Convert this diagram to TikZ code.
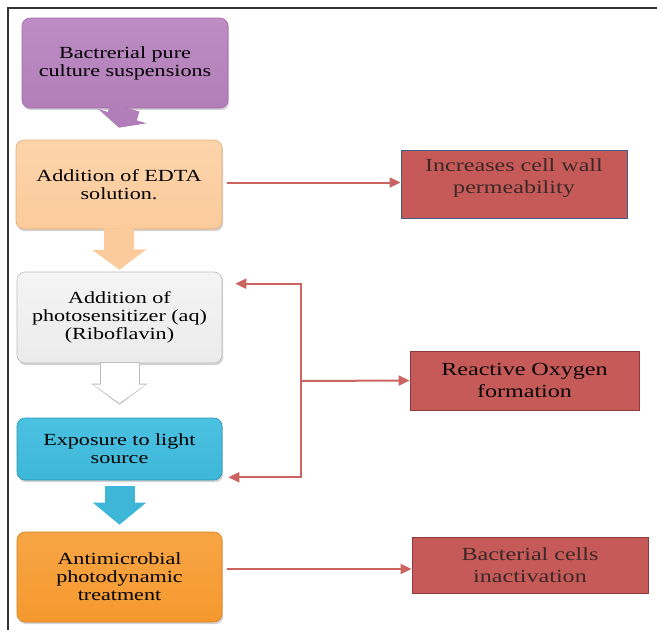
\documentclass[tikz,border=0pt]{standalone}
\usepackage{fontspec}
\setmainfont{Liberation Serif}[FakeStretch=1.3]
\usetikzlibrary{arrows.meta,shadows,calc}
\definecolor{cpurple}{HTML}{B27EB9}
\definecolor{cpurplet}{HTML}{BE8DC4}
\definecolor{cpurpleb}{HTML}{9E6BA5}
\definecolor{cpeach}{HTML}{FBCB9B}
\definecolor{cpeacht}{HTML}{FCD4AB}
\definecolor{cpeachb}{HTML}{E3AD78}
\definecolor{cgrey}{HTML}{EBEBEB}
\definecolor{cgreyt}{HTML}{F4F4F4}
\definecolor{cgreyb}{HTML}{BDBDBD}
\definecolor{cblue}{HTML}{3DB6D8}
\definecolor{cbluet}{HTML}{4CC2E2}
\definecolor{cblueb}{HTML}{2A95B3}
\definecolor{corange}{HTML}{F5992E}
\definecolor{coranget}{HTML}{F7A545}
\definecolor{corangeb}{HTML}{D7801F}
\definecolor{cred}{HTML}{C55A58}
\definecolor{credb}{HTML}{8E3B3A}
\definecolor{cblueedge}{HTML}{3F5E86}
\definecolor{cline}{HTML}{CB6461}
\definecolor{crtext}{HTML}{3D2828}
\definecolor{cframe}{HTML}{333333}
\tikzset{
  lbox/.style={rounded corners=8pt, inner sep=0pt, align=center,
    font=\fontsize{17}{18}\selectfont, text=black, line width=0.6pt,
    drop shadow={opacity=0.35, shadow xshift=1.2pt, shadow yshift=-2.2pt}},
  rbox/.style={fill=cred, draw=credb, line width=0.9pt, inner sep=0pt},
  rtext/.style={align=center, inner sep=0pt, text=crtext,
    font=\fontsize{18.5}{22.5}\selectfont},
  conn/.style={draw=cline, line width=2pt, -{Triangle[length=11pt,width=10pt]}},
  blockarr/.style={line width=30pt}
}
\begin{document}
\begin{tikzpicture}[x=1pt,y=-1pt]
\useasboundingbox (0,0) rectangle (657,630);
% frame
\draw[cframe, line width=1.2pt] (8,630) -- (8,8) -- (657,8);

% left boxes
\node[lbox, top color=cpurplet, bottom color=cpurple, draw=cpurpleb,
  minimum width=206pt, minimum height=90pt] (b1) at (125,63)
  {Bactrerial pure\\culture suspensions};
\node[lbox, top color=cpeacht, bottom color=cpeach, draw=cpeachb,
  minimum width=206pt, minimum height=89pt] (b2) at (119,184.5)
  {Addition of EDTA\\solution.};
\node[lbox, top color=cgreyt, bottom color=cgrey, draw=cgreyb,
  minimum width=205pt, minimum height=91pt] (b3) at (119.5,317.5)
  {Addition of\\photosensitizer (aq)\\(Riboflavin)};
\node[lbox, top color=cbluet, bottom color=cblue, draw=cblueb,
  minimum width=205pt, minimum height=62pt] (b4) at (119.5,449)
  {Exposure to light\\source};
\node[lbox, top color=coranget, bottom color=corange, draw=corangeb,
  minimum width=205pt, minimum height=90pt] (b5) at (119.5,577)
  {Antimicrobial\\photodynamic\\treatment};

% block arrows
\draw[blockarr, draw=cpurple, -{Triangle[length=12pt,width=50pt]}]
  ([yshift=1pt]b1.south) -- ([yshift=12pt]b2.north);
\draw[blockarr, draw=cpeach, -{Triangle[length=20pt,width=53pt]}]
  ([yshift=1pt]b2.south) -- ([yshift=2pt]b3.north);
\draw[line width=40pt, draw=cgreyb, -{Triangle[length=21pt,width=55pt]}]
  ([yshift=1pt]b3.south) -- ([yshift=13pt]b4.north);
\draw[line width=38pt, draw=white, shorten >=1.6pt, -{Triangle[length=18.5pt,width=51pt]}]
  ([yshift=0.6pt]b3.south) -- ([yshift=13pt]b4.north);
\draw[blockarr, draw=cblue, -{Triangle[length=22pt,width=52pt]}]
  ([yshift=-6pt]b4.south) -- ([yshift=7pt]b5.north);

% right boxes
\node[rbox, draw=cblueedge, minimum width=226pt, minimum height=68pt] (A) at (514,184) {};
\node[rtext] (At) at ([yshift=6pt]A.center) {Increases cell wall\\permeability};
\node[rbox, minimum width=229pt, minimum height=59pt] (B) at (524.5,380.5)
  {};
\node[rtext, text=black!85!crtext] (Bt) at (B.center) {Reactive Oxygen\\formation};
\node[rbox, minimum width=236pt, minimum height=56pt] (C) at (530,565) {};
\node[rtext] (Ct) at (C.center) {Bacterial cells\\inactivation};

% connectors
\coordinate (s2) at ([xshift=5pt,yshift=2pt]b2.east);
\coordinate (s5) at ([xshift=5pt,yshift=8pt]b5.east);
\draw[conn] (s2) -- (A.west |- s2);
\coordinate (j) at (301,381);
\draw[conn] (j) -- (B.west);
\draw[conn] (j) |- ([xshift=13pt,yshift=-12pt]b3.north east);
\draw[conn] (j) |- ([xshift=6pt,yshift=3pt]b4.south east);
\draw[conn] (s5) -- (C.west |- s5);
\end{tikzpicture}
\end{document}
